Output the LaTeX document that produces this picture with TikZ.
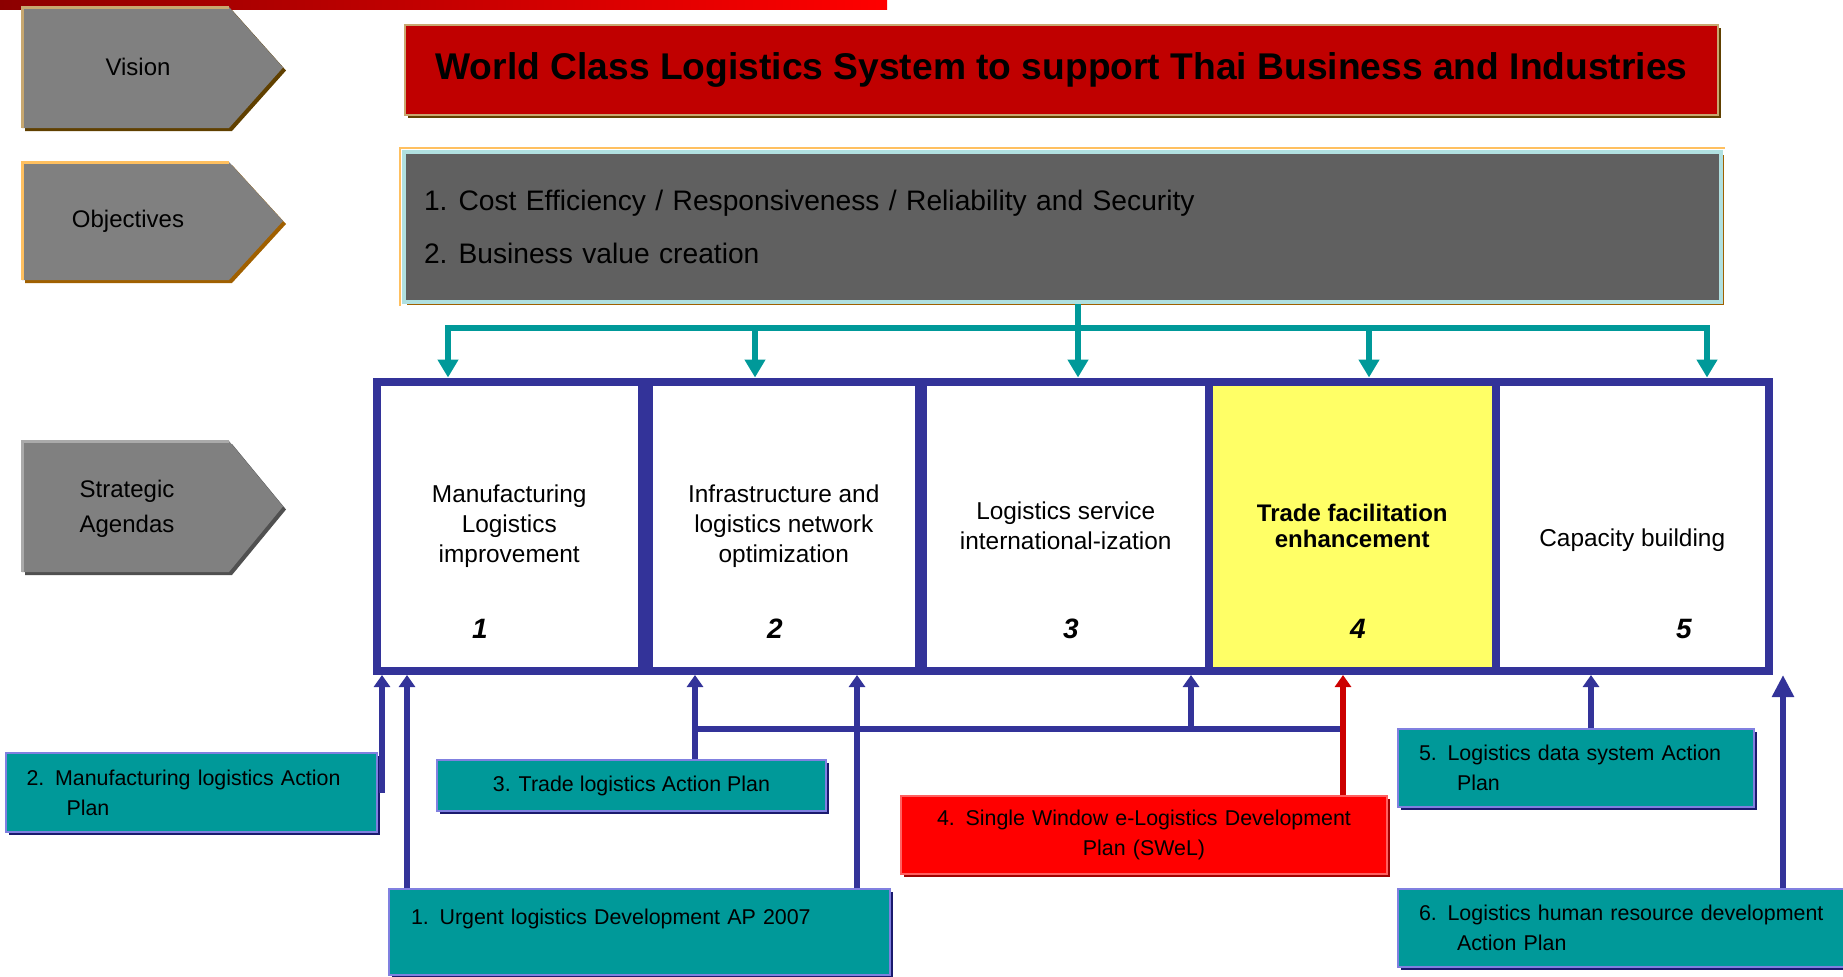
\documentclass[tikz,border=0pt]{standalone}
\usepackage{fontspec}
\setmainfont{Liberation Sans}
\usetikzlibrary{arrows.meta,shadows}

\definecolor{barred}{RGB}{140,0,0}
\definecolor{tagface}{RGB}{128,128,128}
\definecolor{visionrim}{RGB}{200,168,112}
\definecolor{visionshade}{RGB}{96,64,0}
\definecolor{objrim}{RGB}{255,192,96}
\definecolor{objshade}{RGB}{160,96,0}
\definecolor{stratrim}{RGB}{170,170,170}
\definecolor{stratshade}{RGB}{80,80,80}
\definecolor{titlered}{RGB}{192,0,0}
\definecolor{objgray}{RGB}{96,96,96}
\definecolor{objcyan}{RGB}{176,224,224}
\definecolor{busteal}{RGB}{0,153,153}
\definecolor{agendablue}{RGB}{51,51,153}
\definecolor{hiyellow}{RGB}{255,255,102}
\definecolor{planteal}{RGB}{0,153,153}
\definecolor{planrim}{RGB}{128,128,224}
\definecolor{planshade}{RGB}{26,26,110}
\definecolor{swelred}{RGB}{255,0,0}
\definecolor{swelrim}{RGB}{255,96,96}
\definecolor{swelshade}{RGB}{160,0,0}
\definecolor{linkred}{RGB}{204,0,0}

\tikzset{
  raised/.style 2 args={draw=#1, line width=1pt,
    general shadow={fill=#2, shadow xshift=1.5pt, shadow yshift=-1.5pt}},
  agenda/.style={draw=agendablue, line width=4pt, fill=white, align=center,
    inner sep=0pt, font=\fontsize{12.2}{15}\selectfont},
  plan/.style={fill=planteal, raised={planrim}{planshade}, inner sep=0pt,
    font=\fontsize{10.7}{15}\selectfont},
  busline/.style={draw=busteal, line width=2.75pt},
  busarr/.style={busline, -{Triangle[width=10pt,length=9pt]}},
  link/.style={draw=agendablue, line width=2.75pt},
  linkarr/.style={link, -{Triangle[width=8pt,length=6pt]}},
  tagtext/.style={font=\fontsize{12}{17.5}\selectfont, align=center},
  num/.style={font=\fontsize{14}{16}\selectfont\bfseries\itshape}
}

% left hand tags: left edge, start of the point, tip
\def\tagL{22}
\def\tagC{229}
\def\tagR{283}
\newcommand\tagpent[4]{%
  \fill[#4] (\tagL+3,#1+3) -- (\tagC+3,#1+3) -- (\tagR+3,{(#1+#2)/2+3})
    -- (\tagC+3,#2+3) -- (\tagL+3,#2+3) -- cycle;
  \fill[tagface] (\tagL,#1) -- (\tagC,#1) -- (\tagR,{(#1+#2)/2})
    -- (\tagC,#2) -- (\tagL,#2) -- cycle;
  \draw[#3, line width=1.5pt] (\tagL,#2) -- (\tagL,#1) -- (\tagC,#1);
}

\begin{document}
\begin{tikzpicture}[x=0.5pt,y=-0.5pt]
\useasboundingbox (0,0) rectangle (1843,976);

% top bar
\shade[left color=barred, right color=red] (0,0) rectangle (887,9);

% tags
\tagpent{7}{128}{visionrim}{visionshade}
\tagpent{162}{280}{objrim}{objshade}
\tagpent{441}{572}{stratrim}{stratshade}
\node[tagtext] (vision) at (138,67) {Vision};
\node[tagtext] (objectives) at (128,221) {Objectives};
\node[tagtext] (strategic) at (127,509) {Strategic\\Agendas};

% vision and objectives
\node[fill=titlered, raised={visionrim}{visionshade}, minimum width=656.5pt,
  minimum height=45pt, font=\fontsize{18.6}{22}\selectfont\bfseries]
  (title) at (1061.5,70)
  {World Class Logistics System to support Thai Business and Industries};
\node[fill=objgray, draw=objcyan, line width=2pt,
  general shadow={fill=objshade, shadow xshift=1.5pt, shadow yshift=-1.5pt},
  text width=638.5pt, inner xsep=10pt, minimum height=75pt, align=left,
  font=\fontsize{14.1}{26.5}\selectfont] (obj) at (1062.5,227)
  {1.\hspace{5.5pt}Cost Efficiency / Responsiveness / Reliability and Security\\
   2.\hspace{5.5pt}Business value creation};
\draw[objrim, line width=1pt] ([shift={(-2,2)}]obj.south west)
  -- ([shift={(-2,-2)}]obj.north west) -- ([shift={(2,-2)}]obj.north east);

% strategic agendas
\node[agenda, minimum width=132.25pt, minimum height=144.75pt] (a1)
  at (509.25,526.25) {Manufacturing\\Logistics\\improvement};
\node[agenda, minimum width=134.75pt, minimum height=144.75pt] (a2)
  at (783.75,526.25) {Infrastructure and\\logistics network\\optimization};
\node[agenda, minimum width=143.25pt, minimum height=144.75pt] (a3)
  at (1065.75,526.25) {Logistics service\\international-ization};
\node[agenda, fill=hiyellow, minimum width=143.25pt, minimum height=144.75pt,
  font=\fontsize{12}{13}\selectfont\bfseries] (a4)
  at (1352.25,526.25) {Trade facilitation\\enhancement};
\node[agenda, minimum width=136.75pt, minimum height=144.75pt] (a5)
  at (1632.25,526.25) {\mbox{}\\[8pt]Capacity building};
\node[num] (n1) at (480,629) {1};
\node[num] (n2) at (775,629) {2};
\node[num] (n3) at (1071,629) {3};
\node[num] (n4) at (1358,629) {4};
\node[num] (n5) at (1684,629) {5};

% objectives feed every agenda
\coordinate (bus1) at (448,328);
\coordinate (bus2) at (755,328);
\coordinate (bus3) at (1078,328);
\coordinate (bus4) at (1369,328);
\coordinate (bus5) at (1707,328);
\draw[busline, line cap=rect] (bus1) -- (bus5);
\draw[busline] (bus3 |- obj.south) -- (bus3);
\foreach \i in {1,...,5}
  \draw[busarr] (bus\i) -- (bus\i |- a\i.north);

% action plans
\node[plan, minimum width=185.5pt, minimum height=39.5pt, text width=165pt,
  align=left] (plan2) at (191.5,792.5)
  {2. Manufacturing logistics Action\\\hspace*{20pt}Plan};
\node[plan, minimum width=194.5pt, minimum height=25.5pt, align=center]
  (plan3) at (631.5,785.5) {3. Trade logistics Action Plan};
\node[plan, minimum width=250.5pt, minimum height=43pt, text width=228.5pt,
  align=left] (plan1) at (639.5,932)
  {1. Urgent logistics Development AP 2007\\\mbox{}};
\node[plan, fill=swelred, raised={swelrim}{swelshade}, minimum width=243pt,
  minimum height=39pt, text width=230pt, align=center] (plan4) at (1144,835)
  {4. Single Window e-Logistics Development\\Plan (SWeL)};
\node[plan, minimum width=178pt, minimum height=39pt, text width=157pt,
  align=left] (plan5) at (1576,768)
  {5. Logistics data system Action\\\hspace*{19pt}Plan};
\node[plan, minimum width=226pt, minimum height=39pt, text width=205pt,
  align=left] (plan6) at (1624,928)
  {6. Logistics human resource development\\\hspace*{19pt}Action Plan};

% plans feed agendas
\coordinate (up2) at ([xshift=2pt]plan2.east);
\coordinate (up1a) at ([xshift=9.5pt]plan1.north west);
\coordinate (up1b) at ([xshift=-17pt]plan1.north east);
\coordinate (up3) at ([xshift=129.5pt]plan3.north west);
\coordinate (up4) at ([xshift=99.5pt]plan4.north);
\coordinate (up5) at ([xshift=97pt]plan5.north west);
\coordinate (up6) at ([xshift=193pt]plan6.north west);
\coordinate (hubL) at ([yshift=15pt]up3);
\coordinate (hubR) at (up4 |- hubL);
\coordinate (hubM) at ([xshift=248pt]hubL);
\draw[linkarr] (up2) -- (up2 |- a1.south);
\draw[linkarr] (up1a) -- (up1a |- a1.south);
\draw[linkarr] (up1b) -- (up1b |- a2.south);
\draw[linkarr] (up3) -- (up3 |- a2.south);
\draw[link] (hubL) -- (hubR);
\draw[linkarr] (hubM) -- (hubM |- a3.south);
\draw[linkarr, draw=linkred] (up4) -- (up4 |- a4.south);
\draw[linkarr] (up5) -- (up5 |- a5.south);
\draw[link, -{Triangle[width=10.5pt,length=11pt]}] (up6) -- (up6 |- a5.south);
\end{tikzpicture}
\end{document}
